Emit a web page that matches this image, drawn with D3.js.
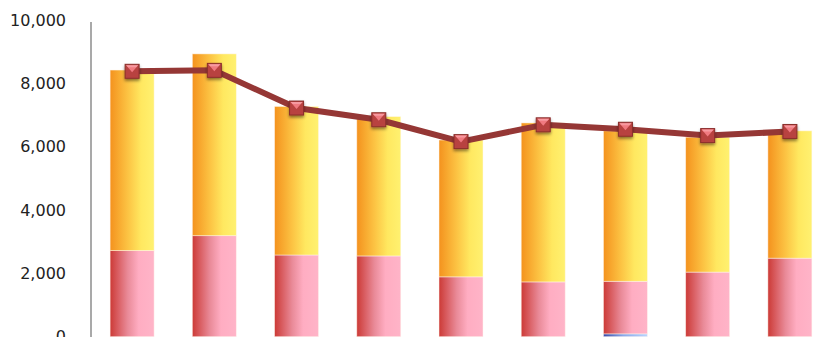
<!DOCTYPE html>
<html>
<head>
<meta charset="utf-8">
<script src="https://cdn.jsdelivr.net/npm/d3@7"></script>
<style>
  html, body { margin: 0; padding: 0; background: #fff; }
  svg { display: block; }
</style>
</head>
<body>
<svg id="chart" width="826" height="337"></svg>
<script>
// Categories and series
const categories = ["1", "2", "3", "4", "5", "6", "7", "8", "9"];
const baseSeries  = [0, 0, 0, 0, 0, 0, 90, 0, 0];
const lowerSeries = [2720, 3190, 2580, 2550, 1890, 1730, 1660, 2040, 2480];
const upperSeries = [5700, 5740, 4690, 4400, 4320, 5020, 4750, 4260, 4020];
const lineSeries  = [8380, 8410, 7220, 6850, 6160, 6690, 6550, 6350, 6480];
const yTicks = [0, 2000, 4000, 6000, 8000, 10000];

const svg = d3.select("#chart");
const defs = svg.append("defs");

function hGradient(id, stops) {
  const g = defs.append("linearGradient").attr("id", id)
    .attr("x1", "0%").attr("x2", "100%").attr("y1", "0%").attr("y2", "0%");
  stops.forEach(([o, c]) => g.append("stop").attr("offset", o).attr("stop-color", c));
}
hGradient("gBlue",  [["0%", "#3a4aa8"], ["45%", "#8aa8ea"], ["100%", "#b8d4ff"]]);
hGradient("gPink",  [["0%", "#cc3a36"], ["40%", "#e98a98"], ["65%", "#ffadc2"], ["100%", "#ffb4c8"]]);
hGradient("gOrange",[["0%", "#f4921e"], ["40%", "#fcc343"], ["70%", "#ffe860"], ["100%", "#fff170"]]);

const marker = defs.append("filter").attr("id", "shadow")
  .attr("x", "-50%").attr("y", "-50%").attr("width", "200%").attr("height", "200%");
marker.append("feDropShadow").attr("dx", 0).attr("dy", 2).attr("stdDeviation", 1.5)
  .attr("flood-color", "#000").attr("flood-opacity", 0.45);

const x = d3.scaleBand().domain(categories).range([91, 831]).paddingInner(0.465).paddingOuter(0.2325);
const y = d3.scaleLinear().domain([0, 10000]).range([336.7, 20]);

// Y axis labels and line
const yAxis = svg.append("g");
yAxis.selectAll("text").data(yTicks).join("text")
  .attr("x", 66).attr("y", d => y(d)).attr("dy", "0.35em")
  .attr("text-anchor", "end")
  .attr("font-family", "'DejaVu Sans', Verdana, sans-serif")
  .attr("font-size", 16).attr("fill", "#222")
  .text(d => d3.format(",")(d));
svg.append("line").attr("x1", 91).attr("x2", 91).attr("y1", y(10000) + 2).attr("y2", 337)
  .attr("stroke", "#8c8c8c").attr("stroke-width", 1.5);

// Stacked bars
const rows = categories.map((c, i) => ({ cat: c, base: baseSeries[i], lower: lowerSeries[i], upper: upperSeries[i] }));
const stack = d3.stack().keys(["base", "lower", "upper"])(rows);
const fills = { base: "url(#gBlue)", lower: "url(#gPink)", upper: "url(#gOrange)" };

svg.append("g").selectAll("g").data(stack).join("g")
  .attr("fill", d => fills[d.key])
  .selectAll("rect").data(d => d.filter(p => p[1] - p[0] > 0)).join("rect")
  .attr("x", d => x(d.data.cat))
  .attr("width", x.bandwidth())
  .attr("y", d => y(d[1]))
  .attr("height", d => y(d[0]) - y(d[1]))
  .attr("stroke", "#fff6ee").attr("stroke-opacity", 0.6).attr("stroke-width", 0.8);

// Line series
const cx = (i) => x(categories[i]) + x.bandwidth() / 2;
svg.append("path").datum(lineSeries)
  .attr("fill", "none").attr("stroke", "#953735").attr("stroke-width", 6)
  .attr("stroke-linejoin", "round")
  .attr("d", d3.line().x((d, i) => cx(i)).y(d => y(d)));

// Bevelled square markers
const s = 14;
const mk = svg.append("g").selectAll("g").data(lineSeries).join("g")
  .attr("transform", (d, i) => `translate(${cx(i)},${y(d)})`);
mk.append("rect").attr("x", -s / 2).attr("y", -s / 2).attr("width", s).attr("height", s)
  .attr("fill", "#b8423f").attr("stroke", "#8a2e2c").attr("stroke-width", 1)
  .attr("filter", "url(#shadow)");
mk.append("path")
  .attr("d", `M${-s / 2 + 1},${-s / 2 + 1} L${s / 2 - 1},${-s / 2 + 1} L0,${1} Z`)
  .attr("fill", "#f07a80");
mk.append("path")
  .attr("d", `M${-s / 2 + 1},${-s / 2 + 1} L${s / 2 - 1},${-s / 2 + 1} L${s / 2 - 3},${-s / 2 + 3} L${-s / 2 + 3},${-s / 2 + 3} Z`)
  .attr("fill", "#f79aa0");
</script>
</body>
</html>
